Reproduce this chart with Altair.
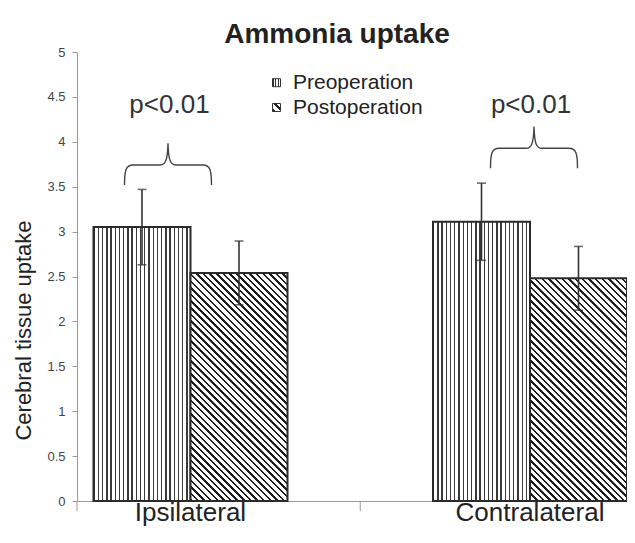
import altair as alt
import pandas as pd

# ---------------- data ----------------
regions = ["Ipsilateral", "Contralateral"]
groups = ["Preoperation", "Postoperation"]
mean_pre = [3.05, 3.11]
mean_post = [2.54, 2.48]
err_pre = [0.42, 0.43]
err_post = [0.355, 0.355]
y_ticks = [0, 0.5, 1, 1.5, 2, 2.5, 3, 3.5, 4, 4.5, 5]
p_label = "p<0.01"
title_text = "Ammonia uptake"
y_title = "Cerebral tissue uptake"

rows = []
for i, r in enumerate(regions):
    rows.append({"region": r, "group": groups[0], "mean": mean_pre[i],
                 "lo": mean_pre[i] - err_pre[i], "hi": mean_pre[i] + err_pre[i]})
    rows.append({"region": r, "group": groups[1], "mean": mean_post[i],
                 "lo": mean_post[i] - err_post[i], "hi": mean_post[i] + err_post[i]})
df = pd.DataFrame(rows)
region_df = pd.DataFrame({"region": regions})
legend_df = pd.DataFrame({"group": groups})

# ---------------- geometry / style ----------------
W, H = 550, 449
YMAX = 5.0
BAR_W = 97.0
FONT = "Liberation Sans"
DARK = "#2a2a2a"
P_INNER, P_OUTER = 0.4286, 0.0243


def stripe_stops(n, frac, dark, light="#ffffff"):
    stops = []
    for i in range(n):
        o0, o1, o2 = i / n, (i + frac) / n, (i + 1) / n
        stops += [alt.GradientStop(offset=o0, color=dark),
                  alt.GradientStop(offset=o1, color=dark),
                  alt.GradientStop(offset=o1, color=light),
                  alt.GradientStop(offset=o2, color=light)]
    return stops


def vertical_grad(n, frac, dark):
    return alt.Gradient(gradient="linear", stops=stripe_stops(n, frac, dark),
                        x1=0, x2=1, y1=0, y2=0)


def diag_grad(value, period=6.7, frac=0.38, dark="#1c1c1c"):
    w = BAR_W
    h = value / YMAX * H
    k = (w + h) / (w * w + h * h)
    n = max(1, round((w + h) / period))
    return alt.Gradient(gradient="linear", stops=stripe_stops(n, frac, dark),
                        x1=0, y1=1, x2=k * w, y2=1 - k * h)


x_scale = alt.Scale(domain=regions, paddingInner=P_INNER, paddingOuter=P_OUTER, align=1)
xo_scale = alt.Scale(domain=groups, paddingInner=0, paddingOuter=0)
y_scale = alt.Scale(domain=[0, YMAX], nice=False, zero=True)

x_axis = alt.Axis(ticks=False, labelFontSize=26, labelFont=FONT, title=None,
                  labelColor="#222", labelPadding=19, labelBaseline="alphabetic",
                  domainColor="#9a9a9a", domainWidth=1, labelAngle=0)
x_enc = alt.X("region:N", scale=x_scale, sort=regions, title=None, axis=x_axis)
xo_enc = alt.XOffset("group:N", scale=xo_scale, sort=groups)
y_enc = alt.Y("mean:Q", scale=y_scale,
              axis=alt.Axis(values=y_ticks, labelExpr="datum.value + ''",
                            labelFontSize=13, labelFont=FONT, labelColor="#444",
                            labelPadding=7, tickSize=5, tickColor="#9a9a9a",
                            domainColor="#9a9a9a", grid=False,
                            title=y_title, titleFontSize=22, titleFont=FONT,
                            titleFontWeight="normal", titleColor="#222",
                            titleBaseline="alphabetic", titleX=-47, titleY=278))

base = alt.Chart(df)

pre_bars = base.transform_filter(alt.datum.group == groups[0]).mark_bar(
    fill=vertical_grad(23, 0.32, "#3a3a3a"), stroke=DARK, strokeWidth=2
).encode(x=x_enc, xOffset=xo_enc, y=y_enc)

post_layers = []
for i, r in enumerate(regions):
    post_layers.append(
        base.transform_filter((alt.datum.group == groups[1]) & (alt.datum.region == r))
        .mark_bar(fill=diag_grad(mean_post[i]), stroke=DARK, strokeWidth=2)
        .encode(x=x_enc, xOffset=xo_enc, y=y_enc)
    )

err_rule = base.mark_rule(color="#333", strokeWidth=1.6).encode(
    x=x_enc, xOffset=xo_enc, y=alt.Y("lo:Q", scale=y_scale), y2="hi:Q")
cap_lo = base.mark_tick(color="#333", thickness=1.6, size=9).encode(
    x=x_enc, xOffset=xo_enc, y=alt.Y("lo:Q", scale=y_scale))
cap_hi = base.mark_tick(color="#333", thickness=1.6, size=9).encode(
    x=x_enc, xOffset=xo_enc, y=alt.Y("hi:Q", scale=y_scale))

# curly brace as custom symbol path (unit box -1..1)
BRACE = ("M -1 0.46 C -1 0.12 -0.97 0 -0.8 0 L -0.18 0 C -0.06 0 -0.01 -0.1 0 -0.5 "
         "C 0.01 -0.1 0.06 0 0.18 0 L 0.8 0 C 0.97 0 1 0.12 1 0.46")
brace_y = [3.742, 3.928]
brace_dx = [-22.5, 4]
text_dx = [-21, 1]
text_y = 4.32

annot = []
for i, r in enumerate(regions):
    sub = alt.Chart(region_df).transform_filter(alt.datum.region == r)
    annot.append(sub.mark_point(shape=BRACE, size=87 ** 2, filled=False, stroke="#444",
                                strokeWidth=1.4, opacity=1, xOffset=brace_dx[i])
                 .encode(x=x_enc, y=alt.Y(datum=brace_y[i], scale=y_scale)))
    annot.append(sub.mark_text(text=p_label, fontSize=26, font=FONT, color="#333",
                               baseline="alphabetic", align="center", dx=text_dx[i])
                 .encode(x=x_enc, y=alt.Y(datum=text_y, scale=y_scale)))

# axis tick between categories (Excel style): start of 2nd band minus half the gap
step = W / (2 - P_INNER + 2 * P_OUTER)
half_gap = step * P_INNER / 2
mid_tick = alt.Chart(region_df).transform_filter(alt.datum.region == regions[1]).mark_rule(
    color="#9a9a9a", strokeWidth=1, xOffset=-half_gap).encode(
    x=alt.X("region:N", scale=x_scale, sort=regions, bandPosition=0, axis=x_axis),
    y=alt.value(H), y2=alt.value(H + 10))
left_tick = alt.Chart(region_df).transform_filter(alt.datum.region == regions[0]).mark_rule(
    color="#9a9a9a", strokeWidth=1).encode(
    x=alt.value(0), y=alt.value(H), y2=alt.value(H + 10))

# legend (manual, patterned swatches)
leg_x, leg_y = 199.5, [30.7, 55.5]
leg_grads = [vertical_grad(3, 0.4, "#333"),
             alt.Gradient(gradient="linear", stops=stripe_stops(2, 0.4, "#222"),
                          x1=0, y1=1, x2=1, y2=0)]
legend = []
for i, g in enumerate(groups):
    sub = alt.Chart(legend_df).transform_filter(alt.datum.group == g)
    legend.append(sub.mark_point(shape="square", size=64, filled=True, fill=leg_grads[i],
                                 stroke="#333", strokeWidth=1, opacity=1)
                  .encode(x=alt.value(leg_x), y=alt.value(leg_y[i])))
    legend.append(sub.mark_text(fontSize=21, font=FONT, color="#222", align="left",
                                baseline="alphabetic")
                  .encode(text="group:N", x=alt.value(216), y=alt.value(leg_y[i] + 6.5)))

chart = alt.layer(pre_bars, *post_layers, err_rule, cap_lo, cap_hi, *annot,
                  mid_tick, left_tick, *legend).properties(
    width=W, height=H,
    autosize=alt.AutoSizeParams(type="none"),
    padding={"left": 69, "top": 44, "right": 0, "bottom": 27},
    title=alt.TitleParams(title_text, fontSize=28, fontWeight="bold", font=FONT,
                          color="#222", anchor="middle", dx=-15, offset=-25,
                          frame="group", baseline="alphabetic"),
).configure_view(stroke=None)

chart.save("out.html", embed_options={"renderer": "svg", "actions": False})
